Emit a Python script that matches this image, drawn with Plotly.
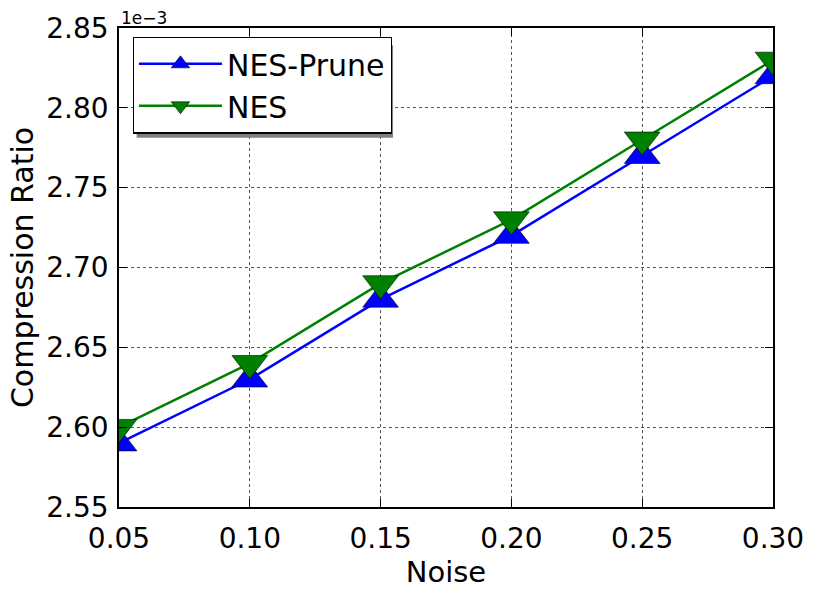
import plotly.graph_objects as go

noise = [0.05, 0.10, 0.15, 0.20, 0.25, 0.30]
nes_prune = [2.59e-3, 2.63e-3, 2.68e-3, 2.72e-3, 2.77e-3, 2.82e-3]
nes = [2.60e-3, 2.64e-3, 2.69e-3, 2.73e-3, 2.78e-3, 2.83e-3]

x_ticks = [0.05, 0.10, 0.15, 0.20, 0.25, 0.30]
x_ticktext = ["0.05", "0.10", "0.15", "0.20", "0.25", "0.30"]
y_ticks = [2.55e-3, 2.60e-3, 2.65e-3, 2.70e-3, 2.75e-3, 2.80e-3, 2.85e-3]
y_ticktext = ["2.55", "2.60", "2.65", "2.70", "2.75", "2.80", "2.85"]

FONT = "DejaVu Sans"

fig = go.Figure()
fig.add_trace(go.Scatter(
    x=noise, y=nes_prune, mode="lines+markers", name="NES-Prune",
    line=dict(color="#0000FF", width=2.5),
    marker=dict(symbol="triangle-up", size=31, color="#0000FF",
                line=dict(color="black", width=0.6)),
))
fig.add_trace(go.Scatter(
    x=noise, y=nes, mode="lines+markers", name="NES",
    line=dict(color="#008000", width=2.5),
    marker=dict(symbol="triangle-down", size=31, color="#008000",
                line=dict(color="black", width=0.6)),
))

axis_common = dict(
    showline=True, linecolor="black", linewidth=1.5, mirror="ticks",
    ticks="inside", ticklen=8, tickwidth=1, tickcolor="black",
    showgrid=True, gridcolor="#555555", griddash="dot", gridwidth=1,
    zeroline=False,
    tickfont=dict(family=FONT, size=28, color="black"),
)

fig.update_layout(
    width=816, height=594,
    margin=dict(l=119, r=34, t=22, b=74),
    paper_bgcolor="white", plot_bgcolor="white",
    font=dict(family=FONT, color="black"),
    xaxis=dict(
        range=[0.05, 0.30], tickvals=x_ticks, ticktext=x_ticktext,
        title=dict(text="Noise", font=dict(family=FONT, size=29), standoff=6),
        ticklabelstandoff=6,
        **axis_common,
    ),
    yaxis=dict(
        range=[2.55e-3, 2.85e-3], tickvals=y_ticks, ticktext=y_ticktext,
        title=dict(text="Compression Ratio", font=dict(family=FONT, size=30), standoff=4),
        ticklabelstandoff=3,
        **axis_common,
    ),
    legend=dict(
        x=0.021, y=0.982, xanchor="left", yanchor="top",
        bgcolor="white", bordercolor="black", borderwidth=1.2,
        font=dict(family=FONT, size=30, color="black"),
        itemwidth=83, tracegroupgap=0,
    ),
    showlegend=True,
)

# legend shadow
fig.add_shape(type="rect", xref="paper", yref="paper",
              x0=0.027, x1=0.419, y0=0.771, y1=0.964,
              fillcolor="#7f7f7f", line=dict(width=0), layer="above")

fig.add_annotation(text="1e\u22123", xref="paper", yref="paper",
                   x=0.0, y=1.0, xanchor="left", yanchor="bottom",
                   showarrow=False, yshift=-2,
                   font=dict(family=FONT, size=17, color="black"))

fig.write_html("out.html")
